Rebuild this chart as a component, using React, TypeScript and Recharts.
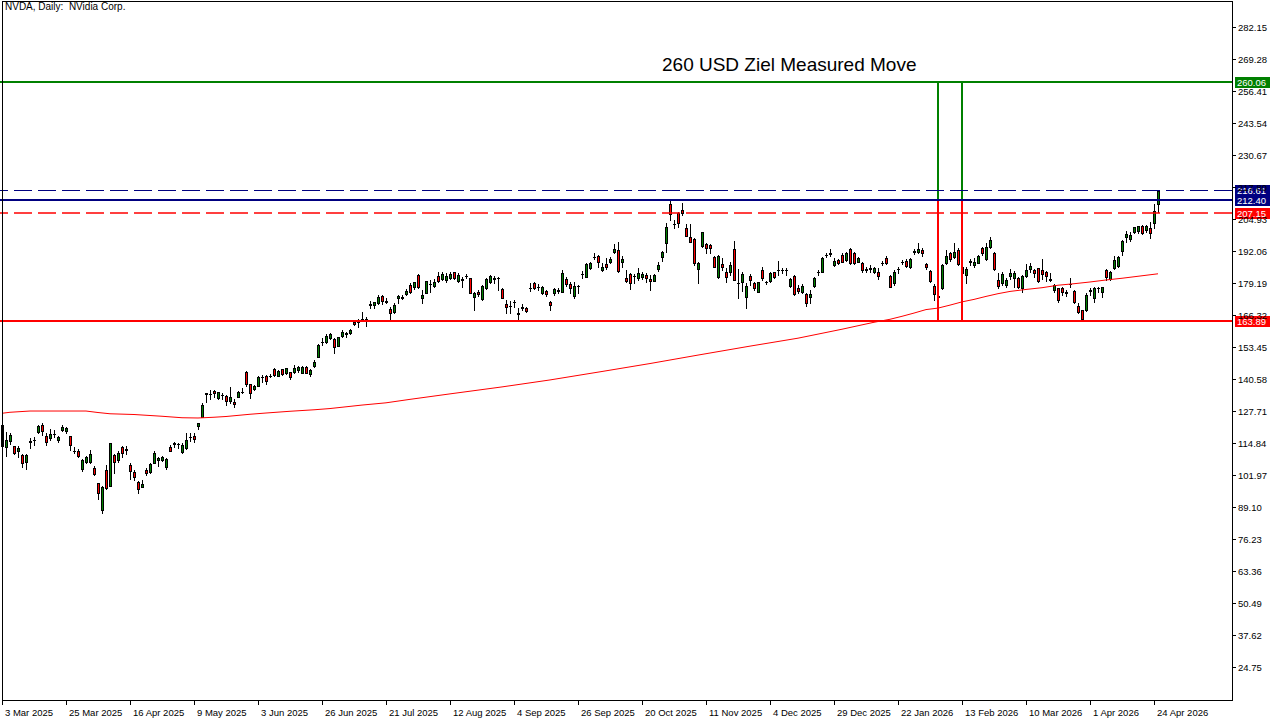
import React from 'react';
import { ComposedChart, Bar, Line, XAxis, YAxis, ReferenceLine, ReferenceDot } from 'recharts';

const opens = [
  122.6, 113.5, 116.0, 114.0, 112.2, 110.4, 107.7, 115.7, 116.3, 119.8,
  122.5, 118.1, 117.1, 118.8, 116.4, 120.5, 120.2, 118.1, 112.2, 112.0,
  104.6, 107.7, 107.7, 105.0, 99.0, 88.3, 104.4, 98.1, 110.4, 108.4,
  113.8, 112.6, 106.4, 103.4, 99.4, 97.7, 104.4, 103.7, 107.3, 108.4,
  108.4, 105.4, 113.5, 114.7, 114.9, 111.7, 113.1, 117.7, 118.1, 122.2,
  125.8, 135.0, 134.8, 136.3, 133.2, 134.5, 134.1, 132.3, 131.7, 133.9,
  135.8, 143.8, 138.8, 136.8, 138.2, 141.8, 142.2, 142.1, 145.0, 142.2,
  144.9, 143.2, 143.7, 143.9, 144.6, 143.5, 145.9, 142.8, 146.2, 150.0,
  155.9, 156.0, 157.3, 156.9, 154.4, 158.3, 159.2, 159.3, 164.0, 164.0,
  164.9, 165.1, 170.9, 170.7, 171.4, 174.4, 172.1, 169.1, 168.1, 173.4,
  173.4, 175.2, 178.8, 177.8, 182.8, 173.4, 175.7, 179.2, 178.4, 182.4,
  181.1, 180.8, 181.7, 183.9, 180.5, 181.1, 182.4, 181.5, 174.1, 176.1,
  173.0, 177.4, 180.1, 181.5, 181.7, 177.0, 171.1, 170.3, 172.1, 167.4,
  169.7, 169.7, 177.6, 179.7, 178.1, 175.4, 176.4, 172.1, 175.4, 176.5,
  176.1, 181.2, 179.2, 174.4, 178.4, 183.1, 182.1, 185.5, 189.9, 190.5,
  184.8, 187.2, 188.2, 191.9, 192.9, 188.2, 181.5, 183.2, 182.4, 181.5,
  182.1, 182.8, 181.2, 180.5, 185.2, 190.2, 195.5, 211.2, 203.2, 207.6,
  209.0, 201.6, 198.0, 197.3, 185.2, 194.6, 195.1, 194.9, 189.9, 182.1,
  187.2, 184.1, 184.1, 193.1, 179.5, 180.1, 174.1, 182.5, 179.5, 176.1,
  184.8, 179.8, 180.4, 183.9, 184.8, 184.8, 184.9, 178.5, 182.4, 177.4,
  176.1, 175.2, 174.1, 178.4, 184.1, 184.1, 190.8, 191.4, 187.0, 188.8,
  190.8, 188.8, 193.1, 191.5, 188.2, 187.8, 185.1, 185.5, 184.1, 184.1,
  187.5, 189.5, 182.4, 179.5, 185.1, 187.9, 188.6, 186.2, 192.2, 191.9,
  192.9, 187.2, 184.5, 178.4, 174.2, 177.4, 187.5, 191.5, 190.2, 192.9,
  185.9, 182.8, 188.2, 186.8, 187.8, 193.5, 189.1, 194.2, 191.5, 180.8,
  179.5, 178.8, 182.5, 181.7, 181.7, 177.4, 182.5, 185.2, 184.8, 185.5,
  184.8, 183.9, 181.1, 176.8, 177.4, 177.4, 175.8, 179.0, 176.4, 170.3,
  168.7, 168.7, 176.5, 173.7, 177.4, 176.1, 184.8, 181.2, 185.7, 186.6,
  192.4, 198.2, 197.3, 200.2, 200.5, 202.5, 200.9, 201.6, 203.6, 211.2,
];
const highs = [
  123.2, 119.8, 119.1, 114.2, 114.0, 110.8, 110.8, 117.1, 117.8, 122.5,
  123.2, 119.1, 120.7, 120.5, 118.0, 122.5, 121.8, 118.1, 113.8, 112.8,
  108.7, 110.0, 112.4, 106.0, 99.3, 97.9, 106.4, 115.4, 110.8, 112.2,
  114.2, 114.0, 107.1, 104.4, 99.8, 100.4, 105.0, 107.1, 112.2, 109.7,
  110.0, 109.1, 114.3, 115.8, 115.4, 115.1, 119.1, 119.1, 119.1, 123.4,
  131.5, 135.5, 136.5, 136.5, 135.9, 135.2, 134.5, 137.9, 132.8, 136.1,
  137.2, 144.0, 139.0, 138.6, 142.2, 142.6, 142.6, 142.8, 145.3, 144.6,
  145.1, 145.5, 143.9, 146.6, 146.2, 146.2, 146.2, 144.9, 148.6, 155.1,
  157.3, 159.1, 159.3, 157.3, 158.0, 160.7, 160.0, 160.9, 164.4, 165.0,
  168.1, 165.8, 172.5, 172.1, 174.8, 174.8, 173.4, 169.8, 171.7, 174.8,
  174.8, 177.0, 179.7, 180.1, 183.2, 176.8, 180.5, 180.8, 181.1, 184.2,
  184.2, 183.5, 184.2, 184.2, 183.5, 181.9, 183.2, 181.7, 176.1, 176.8,
  178.8, 181.5, 182.8, 182.4, 182.1, 177.4, 172.7, 172.5, 172.7, 169.4,
  171.1, 170.1, 179.5, 180.1, 179.2, 178.4, 176.8, 172.5, 177.4, 177.4,
  184.8, 182.1, 180.1, 180.1, 178.8, 184.6, 187.8, 188.2, 191.5, 190.9,
  187.5, 189.7, 190.2, 195.1, 195.9, 190.4, 184.8, 183.5, 183.1, 185.5,
  184.1, 183.5, 182.8, 183.1, 188.2, 192.4, 203.6, 212.6, 204.9, 208.3,
  211.6, 203.2, 203.2, 197.5, 188.2, 200.2, 195.5, 195.1, 190.6, 190.8,
  189.5, 185.5, 188.2, 196.5, 185.2, 184.1, 179.5, 183.1, 179.8, 180.1,
  186.1, 180.4, 184.1, 184.1, 188.4, 185.5, 185.5, 181.7, 182.8, 178.8,
  179.0, 175.4, 176.8, 181.9, 184.8, 189.9, 191.8, 193.3, 189.5, 189.3,
  191.5, 192.2, 193.5, 192.2, 190.2, 188.2, 186.2, 186.8, 186.2, 185.5,
  188.6, 190.4, 182.8, 184.8, 185.9, 188.8, 189.1, 189.5, 193.1, 195.5,
  193.5, 187.8, 184.8, 179.0, 176.1, 187.2, 192.9, 192.2, 195.5, 193.5,
  186.8, 186.2, 189.1, 189.5, 190.8, 194.2, 195.5, 198.2, 191.9, 183.5,
  184.1, 181.5, 185.2, 184.4, 182.1, 182.8, 187.1, 187.5, 185.2, 185.7,
  189.2, 184.4, 183.5, 179.0, 177.7, 178.1, 176.8, 181.5, 176.8, 171.4,
  168.9, 175.4, 177.7, 178.1, 177.8, 178.1, 185.2, 184.4, 190.6, 190.4,
  196.9, 200.5, 200.2, 202.2, 202.6, 202.9, 202.9, 204.0, 211.2, 217.1,
];
const lows = [
  110.0, 110.0, 114.7, 110.8, 109.7, 105.7, 104.9, 113.1, 114.4, 119.1,
  118.5, 114.4, 116.4, 117.8, 115.8, 120.2, 119.4, 112.4, 111.1, 109.5,
  104.1, 107.3, 107.3, 102.4, 92.6, 86.9, 96.8, 98.0, 103.3, 107.7,
  109.5, 110.8, 100.6, 100.4, 95.3, 97.4, 102.4, 103.3, 107.1, 106.0,
  108.0, 104.6, 112.0, 113.8, 113.1, 111.4, 112.8, 116.2, 115.8, 120.7,
  125.5, 131.9, 132.8, 133.9, 132.8, 132.8, 130.5, 131.2, 129.8, 133.6,
  135.2, 138.2, 133.2, 136.5, 138.0, 139.9, 139.0, 141.6, 142.2, 142.0,
  142.6, 143.0, 141.1, 143.5, 143.9, 143.2, 143.2, 142.3, 145.9, 149.8,
  154.6, 155.3, 156.9, 151.6, 154.2, 158.0, 157.7, 159.1, 162.7, 161.8,
  164.4, 162.3, 169.4, 169.4, 171.1, 171.1, 171.7, 164.7, 167.7, 171.7,
  173.0, 174.8, 175.4, 177.0, 177.6, 171.4, 175.5, 176.1, 177.8, 180.1,
  180.8, 180.1, 181.1, 181.1, 180.1, 178.1, 181.5, 175.4, 168.7, 174.5,
  172.7, 177.0, 179.7, 179.5, 176.8, 173.4, 167.4, 167.7, 169.8, 164.7,
  168.7, 168.0, 176.4, 177.0, 176.8, 175.2, 174.4, 168.7, 174.8, 175.7,
  176.0, 178.4, 175.7, 173.4, 175.4, 181.5, 182.0, 185.1, 189.1, 186.2,
  184.6, 185.3, 187.5, 191.5, 184.1, 186.1, 180.1, 177.2, 179.5, 180.8,
  181.2, 180.1, 176.8, 180.4, 184.4, 188.4, 192.2, 204.9, 201.6, 202.2,
  206.9, 198.4, 196.0, 186.8, 179.5, 194.2, 191.5, 191.5, 185.9, 181.7,
  184.8, 179.8, 182.8, 180.6, 173.4, 176.4, 169.7, 178.8, 176.8, 175.8,
  180.8, 179.1, 179.8, 181.5, 182.8, 183.5, 182.8, 178.1, 174.8, 175.4,
  175.4, 170.3, 171.7, 178.1, 182.8, 183.9, 190.2, 190.6, 186.6, 187.1,
  187.9, 188.6, 187.2, 187.1, 187.9, 184.1, 184.1, 184.1, 183.5, 181.1,
  186.8, 187.1, 177.9, 178.8, 183.7, 187.2, 186.2, 185.8, 191.2, 191.5,
  190.6, 185.1, 180.1, 172.7, 172.1, 177.1, 187.1, 188.6, 189.5, 187.0,
  183.2, 179.5, 186.8, 186.2, 187.5, 190.9, 188.8, 193.8, 184.9, 177.4,
  178.8, 178.1, 181.2, 178.1, 177.4, 176.1, 182.1, 184.1, 182.1, 180.1,
  181.2, 180.4, 180.4, 176.1, 172.1, 174.8, 174.5, 178.1, 171.4, 167.4,
  164.7, 168.3, 174.8, 171.8, 176.1, 173.8, 180.8, 180.8, 185.2, 186.1,
  190.8, 196.2, 196.5, 199.8, 199.9, 199.2, 200.2, 197.5, 201.8, 208.0,
];
const closes = [
  114.1, 116.4, 118.5, 111.1, 113.1, 107.1, 110.4, 115.9, 116.5, 122.1,
  120.2, 115.8, 118.9, 118.9, 117.5, 121.8, 121.1, 114.4, 112.1, 110.0,
  108.4, 109.7, 110.8, 102.8, 95.0, 97.7, 97.0, 115.1, 107.7, 111.4,
  111.4, 112.7, 104.1, 101.4, 96.9, 98.6, 103.0, 106.7, 111.4, 109.1,
  109.5, 108.7, 112.2, 115.4, 114.8, 114.4, 116.4, 117.8, 117.0, 123.1,
  130.5, 135.2, 134.9, 135.5, 135.9, 134.4, 132.3, 133.9, 130.9, 135.6,
  135.9, 139.0, 135.2, 138.2, 141.6, 141.9, 140.3, 142.2, 142.6, 144.3,
  143.0, 145.3, 141.9, 145.3, 145.7, 145.9, 143.5, 144.6, 147.9, 154.6,
  156.0, 158.3, 159.1, 154.0, 157.7, 159.7, 159.3, 160.7, 163.0, 164.1,
  165.0, 165.0, 171.1, 171.8, 174.1, 172.5, 172.2, 167.7, 170.7, 174.4,
  174.1, 176.5, 176.1, 179.9, 177.8, 174.8, 180.4, 179.3, 180.1, 180.4,
  183.2, 182.4, 183.2, 181.5, 182.8, 181.0, 182.5, 175.7, 175.4, 175.0,
  178.4, 181.1, 182.4, 181.4, 181.6, 173.7, 170.1, 170.4, 172.0, 167.3,
  169.8, 168.5, 177.7, 177.4, 178.0, 178.1, 175.0, 170.7, 177.0, 176.6,
  183.5, 179.2, 177.4, 178.4, 178.3, 183.2, 187.2, 187.8, 190.0, 188.2,
  185.9, 185.9, 189.1, 193.3, 184.4, 189.2, 180.5, 179.5, 182.5, 183.5,
  183.2, 181.7, 180.4, 182.8, 186.8, 191.9, 202.0, 207.2, 203.3, 203.6,
  207.6, 198.6, 196.2, 187.5, 187.5, 200.0, 193.5, 193.5, 186.1, 190.4,
  186.1, 182.1, 186.8, 180.8, 179.4, 183.1, 178.5, 180.8, 177.4, 179.8,
  181.5, 179.9, 183.5, 182.1, 184.9, 184.7, 184.8, 181.2, 175.0, 176.4,
  178.5, 171.4, 175.2, 181.5, 184.2, 189.5, 190.9, 191.5, 188.6, 187.5,
  188.2, 191.5, 187.5, 187.5, 189.5, 184.8, 185.0, 185.4, 185.8, 182.4,
  187.6, 187.5, 178.1, 184.1, 185.2, 188.0, 186.6, 189.1, 192.3, 193.1,
  191.5, 185.9, 180.5, 175.2, 174.0, 186.8, 190.4, 189.1, 192.2, 187.2,
  183.5, 185.1, 188.3, 188.2, 190.4, 191.5, 194.2, 196.9, 185.1, 178.4,
  183.2, 180.8, 183.7, 183.7, 178.1, 182.5, 184.8, 186.6, 183.7, 180.4,
  183.1, 182.5, 181.0, 178.8, 172.7, 176.1, 175.7, 179.1, 171.8, 167.8,
  165.1, 174.8, 176.6, 177.4, 177.5, 177.8, 182.1, 184.1, 188.8, 189.9,
  196.5, 199.2, 198.9, 202.0, 202.5, 199.9, 202.5, 199.6, 208.5, 216.61,
];

// 200-period moving average, read at sampled bars: [bar index, value]
const maPoints: [number, number][] = [
  [0, 127.2], [2, 127.6], [7, 128.1], [21, 128.1], [24, 127.5], [27, 127.0],
  [33, 126.7], [37, 126.3], [40, 126.0], [45, 125.4], [49, 125.3], [53, 125.6],
  [56, 125.9], [58, 126.2], [62, 126.8], [66, 127.3], [72, 128.0], [78, 128.6],
  [82, 129.1], [86, 129.8], [90, 130.5], [96, 131.4], [102, 132.8], [112, 135.0],
  [125, 137.8], [137, 140.6], [150, 144.0], [162, 147.2], [174, 150.6], [187, 154.2],
  [199, 157.4], [210, 161.0], [214, 162.4], [218, 163.8], [222, 165.0], [225, 166.2],
  [228, 167.5], [231, 168.9], [234, 169.5], [237, 170.7], [240, 172.0], [243, 173.0],
  [246, 174.2], [249, 175.3], [252, 176.2], [256, 177.0], [260, 177.7], [264, 178.7],
  [268, 179.3], [272, 180.0], [276, 180.8], [280, 181.5], [284, 182.3], [289, 183.3],
];

const dateTickIdx = [0, 16, 32, 48, 64, 80, 96, 112, 128, 144, 160, 176, 192, 208, 224, 240, 256, 272, 288];
const dateTickLabels = [
  '3 Mar 2025', '25 Mar 2025', '16 Apr 2025', '9 May 2025', '3 Jun 2025', '26 Jun 2025',
  '21 Jul 2025', '12 Aug 2025', '4 Sep 2025', '26 Sep 2025', '20 Oct 2025', '11 Nov 2025',
  '4 Dec 2025', '29 Dec 2025', '22 Jan 2026', '13 Feb 2026', '10 Mar 2026', '1 Apr 2026', '24 Apr 2026',
];
const priceTicks = [
  24.75, 37.62, 50.49, 63.36, 76.23, 89.10, 101.97, 114.84, 127.71, 140.58, 153.45,
  166.32, 179.19, 192.06, 204.93, 217.80, 230.67, 243.54, 256.41, 269.28, 282.15,
];

const targetLevel = 260.06;
const highLevel = 216.61;
const resistLevel = 212.40;
const prevLevel = 207.15;
const supportLevel = 163.89;
const boxStartBar = 234;
const boxEndBar = 240;
const annotationBar = 165;

const TOTAL_SLOTS = 308;
const FONT = "'Liberation Sans', Arial, sans-serif";
const UP = '#008000';
const DOWN = '#ff0000';
const NAVY = '#000080';
const LINE_SHIFT = -1; // pixel snapping of the drawn levels

const maMap = new Map<number, number>(maPoints);
const data = Array.from({ length: TOTAL_SLOTS }, (_, i) =>
  i < opens.length
    ? { i, range: [lows[i], highs[i]], o: opens[i], h: highs[i], l: lows[i], c: closes[i], ma: maMap.has(i) ? maMap.get(i) : null }
    : { i, range: null, ma: null }
);

const Candle = (props: any) => {
  const { x, y, width, height, payload } = props;
  if (!payload || payload.o == null) return null;
  const { o, h, l, c } = payload;
  const col = Math.floor(x + width / 2);
  const span = h - l;
  const toY = (p: number) => (span > 0 ? y + ((h - p) / span) * height : y);
  const yH = Math.round(toY(h));
  const yL = Math.round(toY(l));
  const top = Math.round(toY(Math.max(o, c)));
  const bot = Math.round(toY(Math.min(o, c)));
  const up = c >= o;
  return (
    <g>
      <rect x={col} y={yH} width={1} height={Math.max(1, yL - yH + 1)} fill="#000" />
      <rect x={col - 1} y={top} width={3} height={Math.max(1, bot - top + 1)} fill="#000" />
      {bot - top >= 2 && <rect x={col} y={top + 1} width={1} height={bot - top - 1} fill={up ? UP : DOWN} />}
    </g>
  );
};

// pixel-snapped level line in a fixed colour
const makeLevelLine = (color: string, w: number, dash?: string) => (props: any) => {
  const { x1, y1, x2, y2 } = props;
  if (x1 == null || y1 == null) return null;
  if (Math.abs(y1 - y2) < 0.01) {
    const row = Math.round(y1) + LINE_SHIFT;
    const yy = Math.round(w) % 2 === 1 ? row + 0.5 : row;
    return <line x1={x1} y1={yy} x2={x2} y2={yy} stroke={color} strokeWidth={w} strokeDasharray={dash} />;
  }
  const xx = Math.round(w) % 2 === 1 ? Math.floor(x1) + 0.5 : Math.round(x1);
  return (
    <line x1={xx} y1={Math.round(y1) + LINE_SHIFT} x2={xx} y2={Math.round(y2) + LINE_SHIFT} stroke={color} strokeWidth={w} strokeDasharray={dash} />
  );
};

const greenSolid = makeLevelLine(UP, 2);
const redSolid = makeLevelLine(DOWN, 2);
const navySolid = makeLevelLine(NAVY, 2);
const navyDash = makeLevelLine(NAVY, 1, '18 6');
const redDash = makeLevelLine(DOWN, 1.6, '18 6');

const PriceTag = (props: any) => {
  const { viewBox, text, bg } = props;
  if (!viewBox) return null;
  const x = viewBox.x + viewBox.width + 3;
  const y = Math.round(viewBox.y) + LINE_SHIFT;
  return (
    <g>
      <rect x={x} y={y - 5} width={35} height={11} fill={bg} />
      <text x={x + 2} y={y + 4} fill="#fff" fontSize={9.5} fontFamily={FONT}>{text}</text>
    </g>
  );
};

const Annotation = (props: any) => {
  const { viewBox } = props;
  if (!viewBox) return null;
  return (
    <text x={viewBox.x} y={viewBox.y - 12} fontSize={19} fontFamily={FONT} fill="#000">
      260 USD Ziel Measured Move
    </text>
  );
};

const DateTick = (props: any) => {
  const { x, payload } = props;
  const k = dateTickIdx.indexOf(payload.value);
  const col = Math.floor(x);
  return (
    <g>
      <rect x={col} y={700} width={1} height={5} fill="#000" />
      <text x={col + 3} y={716} fontSize={9.5} fontFamily={FONT} fill="#000">{k >= 0 ? dateTickLabels[k] : ''}</text>
    </g>
  );
};

const PriceTick = (props: any) => {
  const { x, y, payload } = props;
  const row = Math.round(y) + LINE_SHIFT;
  return (
    <g>
      <rect x={x - 6} y={row} width={4} height={1} fill="#000" />
      <text x={x} y={row + 4} fontSize={9.5} fontFamily={FONT} fill="#000">{Number(payload.value).toFixed(2)}</text>
    </g>
  );
};

export default function App() {
  return (
    <div style={{ position: 'absolute', left: 0, top: 0, width: 1280, height: 720, background: '#fff' }}>
      <ComposedChart width={1280} height={720} data={data} margin={{ top: 1, right: 0, left: 0, bottom: 0 }}>
        <XAxis
          dataKey="i"
          type="category"
          height={20}
          ticks={dateTickIdx}
          interval={0}
          axisLine={false}
          tickLine={false}
          tick={<DateTick />}
        />
        <YAxis
          orientation="right"
          type="number"
          width={48}
          domain={[11.88, 293.01]}
          allowDataOverflow
          ticks={priceTicks}
          interval={0}
          axisLine={false}
          tickLine={false}
          tickSize={4}
          tickMargin={2}
          tick={<PriceTick />}
        />
        <Bar dataKey="range" barSize={3} isAnimationActive={false} shape={(p: any) => <Candle {...p} />} />
        <Line dataKey="ma" type="linear" stroke="#ff0000" strokeWidth={1} dot={false} connectNulls isAnimationActive={false} />
        <ReferenceLine segment={[{ x: boxStartBar, y: targetLevel }, { x: boxStartBar, y: resistLevel }]} stroke={UP} strokeWidth={2} shape={greenSolid} />
        <ReferenceLine segment={[{ x: boxEndBar, y: targetLevel }, { x: boxEndBar, y: resistLevel }]} stroke={UP} strokeWidth={2} shape={greenSolid} />
        <ReferenceLine segment={[{ x: boxStartBar, y: resistLevel }, { x: boxStartBar, y: supportLevel }]} stroke={DOWN} strokeWidth={2} shape={redSolid} />
        <ReferenceLine segment={[{ x: boxEndBar, y: resistLevel }, { x: boxEndBar, y: supportLevel }]} stroke={DOWN} strokeWidth={2} shape={redSolid} />
        <ReferenceLine y={targetLevel} stroke={UP} strokeWidth={2} shape={greenSolid} label={<PriceTag text="260.06" bg={UP} />} />
        <ReferenceLine y={highLevel} stroke={NAVY} strokeWidth={1} shape={navyDash} label={<PriceTag text="216.61" bg={NAVY} />} />
        <ReferenceLine y={prevLevel} stroke={DOWN} strokeWidth={1} shape={redDash} label={<PriceTag text="207.15" bg={DOWN} />} />
        <ReferenceLine y={resistLevel} stroke={NAVY} strokeWidth={2} shape={navySolid} label={<PriceTag text="212.40" bg={NAVY} />} />
        <ReferenceLine y={supportLevel} stroke={DOWN} strokeWidth={2} shape={redSolid} label={<PriceTag text="163.89" bg={DOWN} />} />
        <ReferenceDot x={annotationBar} y={targetLevel} r={0} fill="none" stroke="none" label={<Annotation />} />
      </ComposedChart>
      <svg width={1280} height={720} style={{ position: 'absolute', left: 0, top: 0, pointerEvents: 'none' }}>
        <rect x={2.5} y={1.5} width={1230} height={699} fill="none" stroke="#000" strokeWidth={1} />
        <text x={5} y={10} fontSize={10} fontFamily={FONT} fill="#000" xmlSpace="preserve">NVDA, Daily:  NVidia Corp.</text>
      </svg>
    </div>
  );
}
